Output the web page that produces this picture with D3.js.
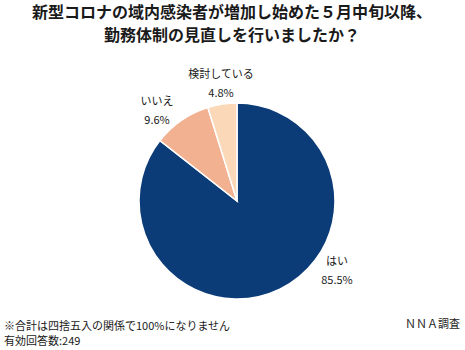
<!DOCTYPE html>
<html>
<head>
<meta charset="utf-8">
<script src="https://cdn.jsdelivr.net/npm/d3@7"></script>
<style>
  html, body { margin: 0; padding: 0; background: #fff; }
  svg { display: block; font-family: "Noto Sans CJK JP", "Noto Sans", sans-serif; }
</style>
</head>
<body>
<svg id="chart" width="465" height="350"></svg>
<script>
// Survey answers, clockwise from 12 o'clock
const categories = ["はい", "いいえ", "検討している"];
const shares = [85.5, 9.6, 4.8];
const colors = ["#0b3c78", "#f2b292", "#fad8b8"];
const titleLines = [
  "新型コロナの域内感染者が増加し始めた５月中旬以降、",
  "勤務体制の見直しを行いましたか？"
];
const notes = ["※合計は四捨五入の関係で100%になりません", "有効回答数:249"];
const source = "ＮＮＡ調査";

const svg = d3.select("#chart");
const cx = 237, cy = 201, r = 98;

// Title
svg.append("g").selectAll("text").data(titleLines).join("text")
  .attr("x", 232).attr("y", (d, i) => 17.5 + i * 23.5)
  .attr("text-anchor", "middle")
  .attr("font-size", 16).attr("font-weight", 700).attr("fill", "#1a1a1a")
  .text(d => d);

const data = categories.map((c, i) => ({ name: c, value: shares[i], color: colors[i] }));
const pie = d3.pie().value(d => d.value).sort(null);
const arcs = pie(data);
const arc = d3.arc().innerRadius(0).outerRadius(r);

const g = svg.append("g").attr("transform", `translate(${cx},${cy})`);
g.selectAll("path").data(arcs).join("path")
  .attr("d", arc)
  .attr("fill", d => d.data.color)
  .attr("stroke", "#fff").attr("stroke-width", 1.5);

// Outside labels: offsets of the name baseline from the pie centre
const labelPos = [[100, 64], [-80, -96], [-16, -123]];
const labels = g.append("g");
arcs.forEach((a, i) => {
  const [x, y] = labelPos[i];
  const t = labels.append("text").attr("text-anchor", "middle")
    .attr("font-size", 11).attr("fill", "#1a1a1a");
  t.append("tspan").attr("x", x).attr("y", y).text(a.data.name);
  t.append("tspan").attr("x", x).attr("y", y + 19).text(a.data.value.toFixed(1) + "%");
});

// Footnotes and source
svg.append("g").selectAll("text").data(notes).join("text")
  .attr("x", 4).attr("y", (d, i) => 330 + i * 15)
  .attr("font-size", 11).attr("fill", "#1a1a1a")
  .text(d => d);
svg.append("text").attr("x", 460).attr("y", 328)
  .attr("text-anchor", "end").attr("font-size", 11).attr("fill", "#1a1a1a")
  .text(source);
</script>
</body>
</html>
